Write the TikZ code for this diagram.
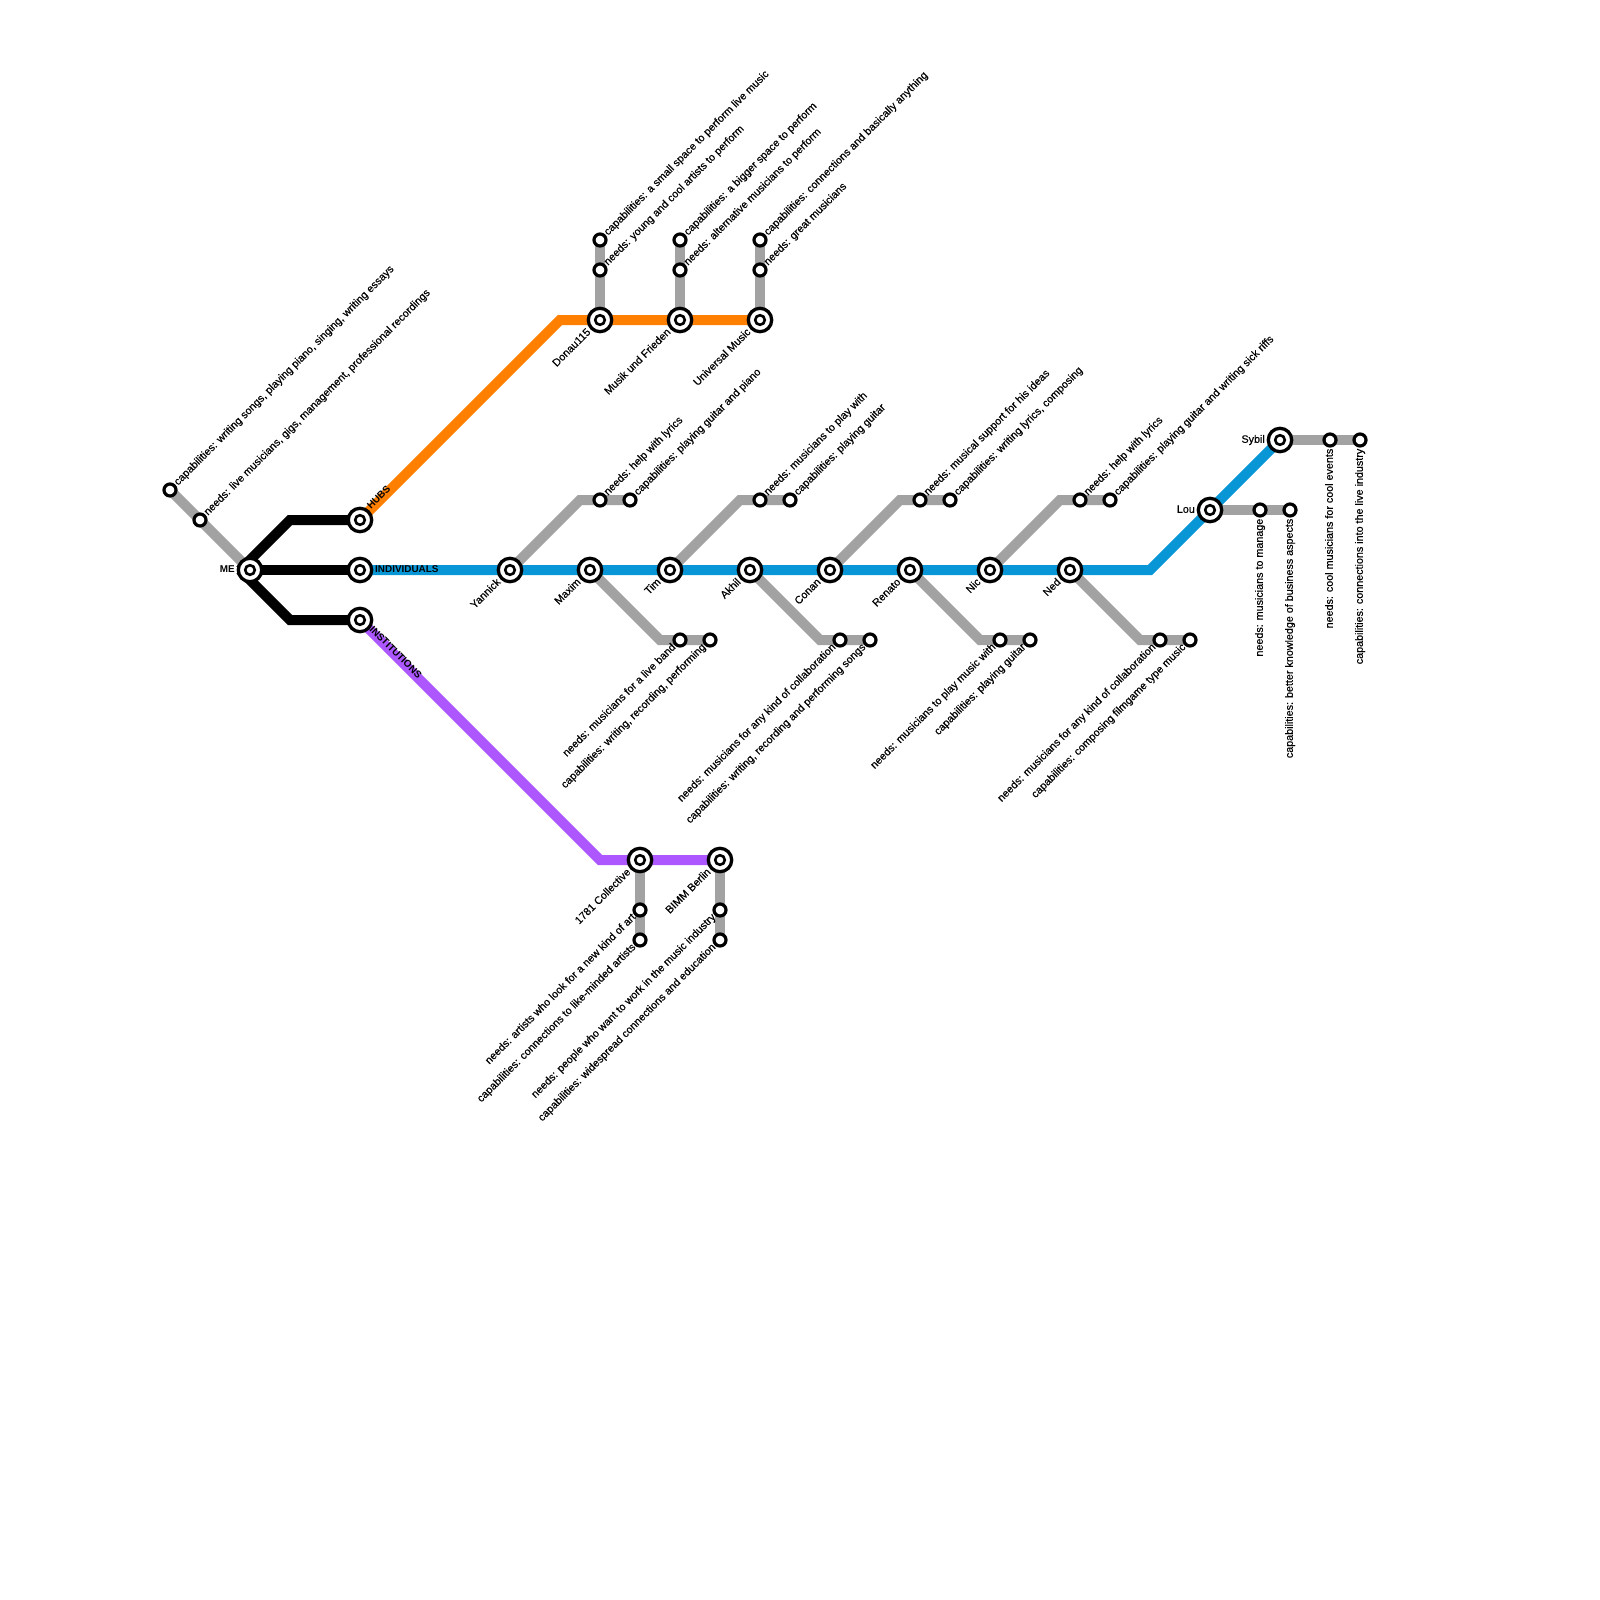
\documentclass[tikz,border=0pt]{standalone}
\usepackage{fontspec}
\setmainfont{Liberation Sans}
\newfontfamily\labelfont{Liberation Sans}[FakeBold=0.35]
\usetikzlibrary{backgrounds}

\definecolor{linegray}{HTML}{A2A2A2}
\definecolor{lineblue}{HTML}{0896D7}
\definecolor{lineorange}{HTML}{FF8000}
\definecolor{linepurple}{HTML}{AC57FF}

\tikzset{
  metroline/.style={line width=10pt},
  stop/.style={circle, draw=black, fill=white, line width=3.2pt, inner sep=0pt, minimum size=12pt},
  station/.style={circle, draw=black, fill=white, line width=3.3pt, inner sep=0pt, minimum size=23.4pt,
    path picture={\draw[line width=2.6pt] (path picture bounding box.center) circle (4.8pt);}},
  textbase/.style={font=\fontsize{10.75}{12}\selectfont\labelfont, inner sep=0pt, text height=8pt, text depth=2.4pt},
  upneed/.style={textbase, rotate=45, anchor=west, xshift=8.5pt},
  downneed/.style={textbase, rotate=45, anchor=east, xshift=-8pt},
  vertneed/.style={textbase, rotate=90, anchor=east, xshift=-8.5pt},
  stationname/.style={textbase, rotate=45, anchor=east, xshift=-15pt},
  sidename/.style={textbase, anchor=east, xshift=-15pt},
  linename/.style={textbase, font=\fontsize{9.9}{12}\selectfont\bfseries},
}

\begin{document}
\begin{tikzpicture}[x=1pt, y=-1pt]
  \useasboundingbox (0,0) rectangle (1600,1600);

  % stations
  \node[station] (me) at (250,570) {};
  \node[station] (hubs) at (360,520) {};
  \node[station] (individuals) at (360,570) {};
  \node[station] (institutions) at (360,620) {};
  \foreach \name/\x in {donau/600, musik/680, universal/760}
    \node[station] (\name) at (\x,320) {};
  \foreach \name/\x in {yannick/510, maxim/590, tim/670, akhil/750, conan/830, renato/910, nic/990, ned/1070}
    \node[station] (\name) at (\x,570) {};
  \node[station] (lou) at (1210,510) {};
  \node[station] (sybil) at (1280,440) {};
  \node[station] (collective) at (640,860) {};
  \node[station] (bimm) at (720,860) {};

  % stops
  \node[stop] (mecap) at (170,490) {};
  \node[stop] (meneed) at (200,520) {};
  \foreach \name/\x in {donau/600, musik/680, universal/760} {
    \node[stop] (\name cap) at (\x,240) {};
    \node[stop] (\name need) at (\x,270) {};
  }
  \foreach \name/\x in {yannick/600, tim/760, conan/920, nic/1080} {
    \node[stop] (\name need) at (\x,500) {};
    \node[stop] (\name cap) at (\x+30,500) {};
  }
  \foreach \name/\x in {maxim/680, akhil/840, renato/1000, ned/1160} {
    \node[stop] (\name need) at (\x,640) {};
    \node[stop] (\name cap) at (\x+30,640) {};
  }
  \node[stop] (louneed) at (1260,510) {};
  \node[stop] (loucap) at (1290,510) {};
  \node[stop] (sybilneed) at (1330,440) {};
  \node[stop] (sybilcap) at (1360,440) {};
  \node[stop] (collectiveneed) at (640,910) {};
  \node[stop] (collectivecap) at (640,940) {};
  \node[stop] (bimmneed) at (720,910) {};
  \node[stop] (bimmcap) at (720,940) {};

  % bends
  \coordinate (mefork) at (240,570);
  \coordinate (upbend) at (290,520);
  \coordinate (downbend) at (290,620);
  \coordinate (orangebend) at (560,320);
  \coordinate (purplebend) at (600,860);
  \coordinate (bluebend) at (1150,570);
  \foreach \name/\x in {yannick/580, tim/740, conan/900, nic/1060}
    \coordinate (\name bend) at (\x,500);
  \foreach \name/\x in {maxim/660, akhil/820, renato/980, ned/1140}
    \coordinate (\name bend) at (\x,640);

  \begin{scope}[on background layer]
    % grey branches
    \draw[metroline, linegray] (mecap.center) -- (me.center);
    \foreach \name in {donau, musik, universal}
      \draw[metroline, linegray] (\name cap.center) -- (\name.center);
    \foreach \name in {yannick, tim, conan, nic, maxim, akhil, renato, ned}
      \draw[metroline, linegray] (\name.center) -- (\name bend) -- (\name cap.center);
    \draw[metroline, linegray] (lou.center) -- (loucap.center);
    \draw[metroline, linegray] (sybil.center) -- (sybilcap.center);
    \draw[metroline, linegray] (collective.center) -- (collectivecap.center);
    \draw[metroline, linegray] (bimm.center) -- (bimmcap.center);
    % coloured lines
    \draw[metroline, lineorange] (hubs.center) -- (orangebend) -- (universal.center);
    \draw[metroline, lineblue] (individuals.center) -- (ned.center) -- (bluebend) -- (sybil.center);
    \draw[metroline, linepurple] (institutions.center) -- (purplebend) -- (bimm.center);
    \draw[metroline, black] (hubs.center) -- (upbend) -- (mefork);
    \draw[metroline, black] (individuals.center) -- (me.center);
    \draw[metroline, black] (institutions.center) -- (downbend) -- (mefork);
  \end{scope}

  % line names
  \node[linename, rotate=45, anchor=west] (hubsname) at (369,508) {HUBS};
  \node[linename, anchor=west] (individualsname) at (375,570) {INDIVIDUALS};
  \node[linename, rotate=-45, anchor=west] (institutionsname) at (371,628) {INSTITUTIONS};

  % station names
  \node[sidename, font=\fontsize{9.9}{12}\selectfont\bfseries] at (me) {ME};
  \node[sidename] at (lou) {Lou};
  \node[sidename] at (sybil) {Sybil};
  \node[stationname] at (donau) {Donau115};
  \node[stationname] at (musik) {Musik und Frieden};
  \node[stationname] at (universal) {Universal Music};
  \node[stationname] at (yannick) {Yannick};
  \node[stationname] at (maxim) {Maxim};
  \node[stationname] at (tim) {Tim};
  \node[stationname] at (akhil) {Akhil};
  \node[stationname] at (conan) {Conan};
  \node[stationname] at (renato) {Renato};
  \node[stationname] at (nic) {Nic};
  \node[stationname] at (ned) {Ned};
  \node[stationname] at (collective) {1781 Collective};
  \node[stationname] at (bimm) {BIMM Berlin};

  % capabilities and needs
  \node[upneed] at (mecap) {capabilities: writing songs, playing piano, singing, writing essays};
  \node[upneed] at (meneed) {needs: live musicians, gigs, management, professional recordings};
  \node[upneed] at (donaucap) {capabilities: a small space to perform live music};
  \node[upneed] at (donauneed) {needs: young and cool artists to perform};
  \node[upneed] at (musikcap) {capabilities: a bigger space to perform};
  \node[upneed] at (musikneed) {needs: alternative musicians to perform};
  \node[upneed] at (universalcap) {capabilities: connections and basically anything};
  \node[upneed] at (universalneed) {needs: great musicians};
  \node[upneed] at (yannickneed) {needs: help with lyrics};
  \node[upneed] at (yannickcap) {capabilities: playing guitar and piano};
  \node[upneed] at (timneed) {needs: musicians to play with};
  \node[upneed] at (timcap) {capabilities: playing guitar};
  \node[upneed] at (conanneed) {needs: musical support for his ideas};
  \node[upneed] at (conancap) {capabilities: writing lyrics, composing};
  \node[upneed] at (nicneed) {needs: help with lyrics};
  \node[upneed] at (niccap) {capabilities: playing guitar and writing sick riffs};
  \node[downneed] at (maximneed) {needs: musicians for a live band};
  \node[downneed] at (maximcap) {capabilities: writing, recording, performing};
  \node[downneed] at (akhilneed) {needs: musicians for any kind of collaboration};
  \node[downneed] at (akhilcap) {capabilities: writing, recording and performing songs};
  \node[downneed] at (renatoneed) {needs: musicians to play music with};
  \node[downneed] at (renatocap) {capabilities: playing guitar};
  \node[downneed] at (nedneed) {needs: musicians for any kind of collaboration};
  \node[downneed] at (nedcap) {capabilities: composing filmgame type music};
  \node[downneed] at (collectiveneed) {needs: artists who look for a new kind of art};
  \node[downneed] at (collectivecap) {capabilities: connections to like-minded artists};
  \node[downneed] at (bimmneed) {needs: people who want to work in the music industry};
  \node[downneed] at (bimmcap) {capabilities: widespread connections and education};
  \node[vertneed] at (louneed) {needs: musicians to manage};
  \node[vertneed] at (loucap) {capabilities: better knowledge of business aspects};
  \node[vertneed] at (sybilneed) {needs: cool musicians for cool events};
  \node[vertneed] at (sybilcap) {capabilities: connections into the live industry};
\end{tikzpicture}
\end{document}
